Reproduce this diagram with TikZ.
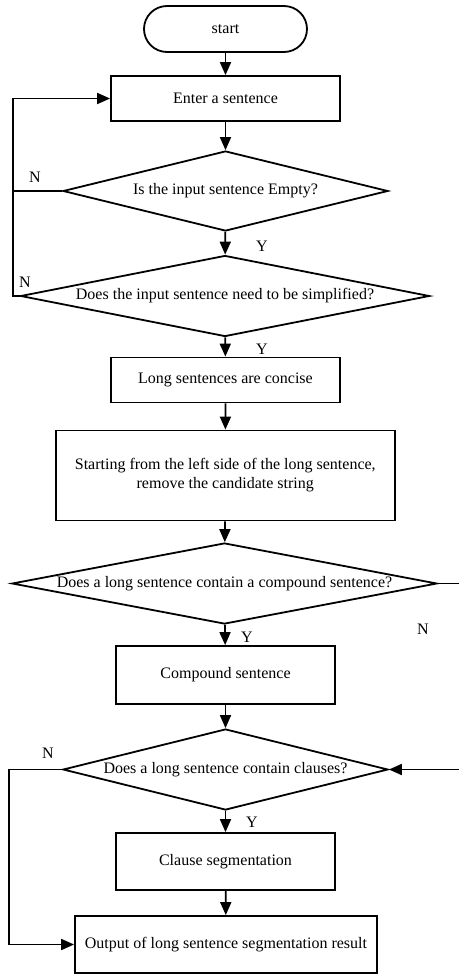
\documentclass[tikz,border=0pt]{standalone}
\usepackage{fontspec}
\setmainfont{Liberation Serif}
\usetikzlibrary{shapes.geometric,arrows.meta}
\begin{document}
\begin{tikzpicture}[x=1pt,y=-1pt,
  line width=1.8pt,
  every node/.style={font=\fontsize{16}{19}\selectfont},
  procbox/.style={draw,rectangle,inner sep=0pt,align=center},
  decision/.style={draw,diamond,inner sep=0pt,align=center},
  terminal/.style={draw,rectangle,rounded corners=23pt,inner sep=0pt},
  flow/.style={-{Triangle[length=13pt,width=11pt]}},
  tag/.style={inner sep=0pt}]
\useasboundingbox (0,0) rectangle (459,975);

% main column
\node[terminal,minimum width=163pt,minimum height=46pt] (start) at (225.5,29) {start};
\node[procbox,minimum width=229pt,minimum height=45pt] (enter) at (225.5,98.5) {Enter a sentence};
\node[decision,aspect=4.06,minimum width=325pt,minimum height=80pt] (empty) at (225.5,191) {Is the input sentence Empty?};
\node[decision,aspect=5.05,minimum width=409pt,minimum height=81pt] (simp) at (225,296) {Does the input sentence need to be simplified?};
\node[procbox,minimum width=229pt,minimum height=45pt] (concise) at (225.5,380) {Long sentences are concise};
\node[procbox,minimum width=339pt,minimum height=90pt] (strip) at (225.3,475.5) {Starting from the left side of the long sentence,\\remove the candidate string};
\node[decision,aspect=5.25,minimum width=425pt,minimum height=81pt] (compq) at (224.5,583.5) {Does a long sentence contain a compound sentence?};
\node[procbox,minimum width=219pt,minimum height=58pt] (comp) at (225.5,675) {Compound sentence};
\node[decision,aspect=4.01,minimum width=325pt,minimum height=81pt] (clauseq) at (225.5,769.5) {Does a long sentence contain clauses?};
\node[procbox,minimum width=219pt,minimum height=57pt] (clause) at (225.5,861.5) {Clause segmentation};
\node[procbox,minimum width=302pt,minimum height=57pt] (result) at (226,944.5) {Output of long sentence segmentation result};

% loop and side routing points
\coordinate (loopA) at (12.7,98.5);
\coordinate (loopB) at (12.7,191);
\coordinate (loopC) at (12.7,296);
\coordinate (rightA) at (459,583.5);
\coordinate (rightB) at (459,769.5);
\coordinate (leftA) at (9.3,769.5);
\coordinate (leftB) at (9.3,944.5);

% straight flow
\draw[flow] (start) -- (enter);
\draw[flow] (enter) -- (empty);
\draw[flow] (empty) -- (simp);
\draw[flow] (simp) -- (concise);
\draw[flow] (concise) -- (strip);
\draw[flow] (strip) -- (compq);
\draw[flow] (compq) -- (comp);
\draw[flow] (comp) -- (clauseq);
\draw[flow] (clauseq) -- (clause);
\draw[flow] (clause) -- (result);

% "N" branches
\draw (empty.west) -- (loopB);
\draw[flow] (simp.west) -- (loopC) -- (loopA) -- (enter.west);
\draw (compq.east) -- (rightA);
\draw[flow] (rightB) -- (clauseq.east);
\draw[flow] (clauseq.west) -- (leftA) -- (leftB) -- (result.west);

% branch labels
\node[tag] (y1) at (262,246) {Y};
\node[tag] (y2) at (262,349) {Y};
\node[tag] (y3) at (247,637) {Y};
\node[tag] (y4) at (252,822) {Y};
\node[tag] (n1) at (35,177) {N};
\node[tag] (n2) at (25,282) {N};
\node[tag] (n3) at (423,629) {N};
\node[tag] (n4) at (48,753) {N};
\end{tikzpicture}
\end{document}
